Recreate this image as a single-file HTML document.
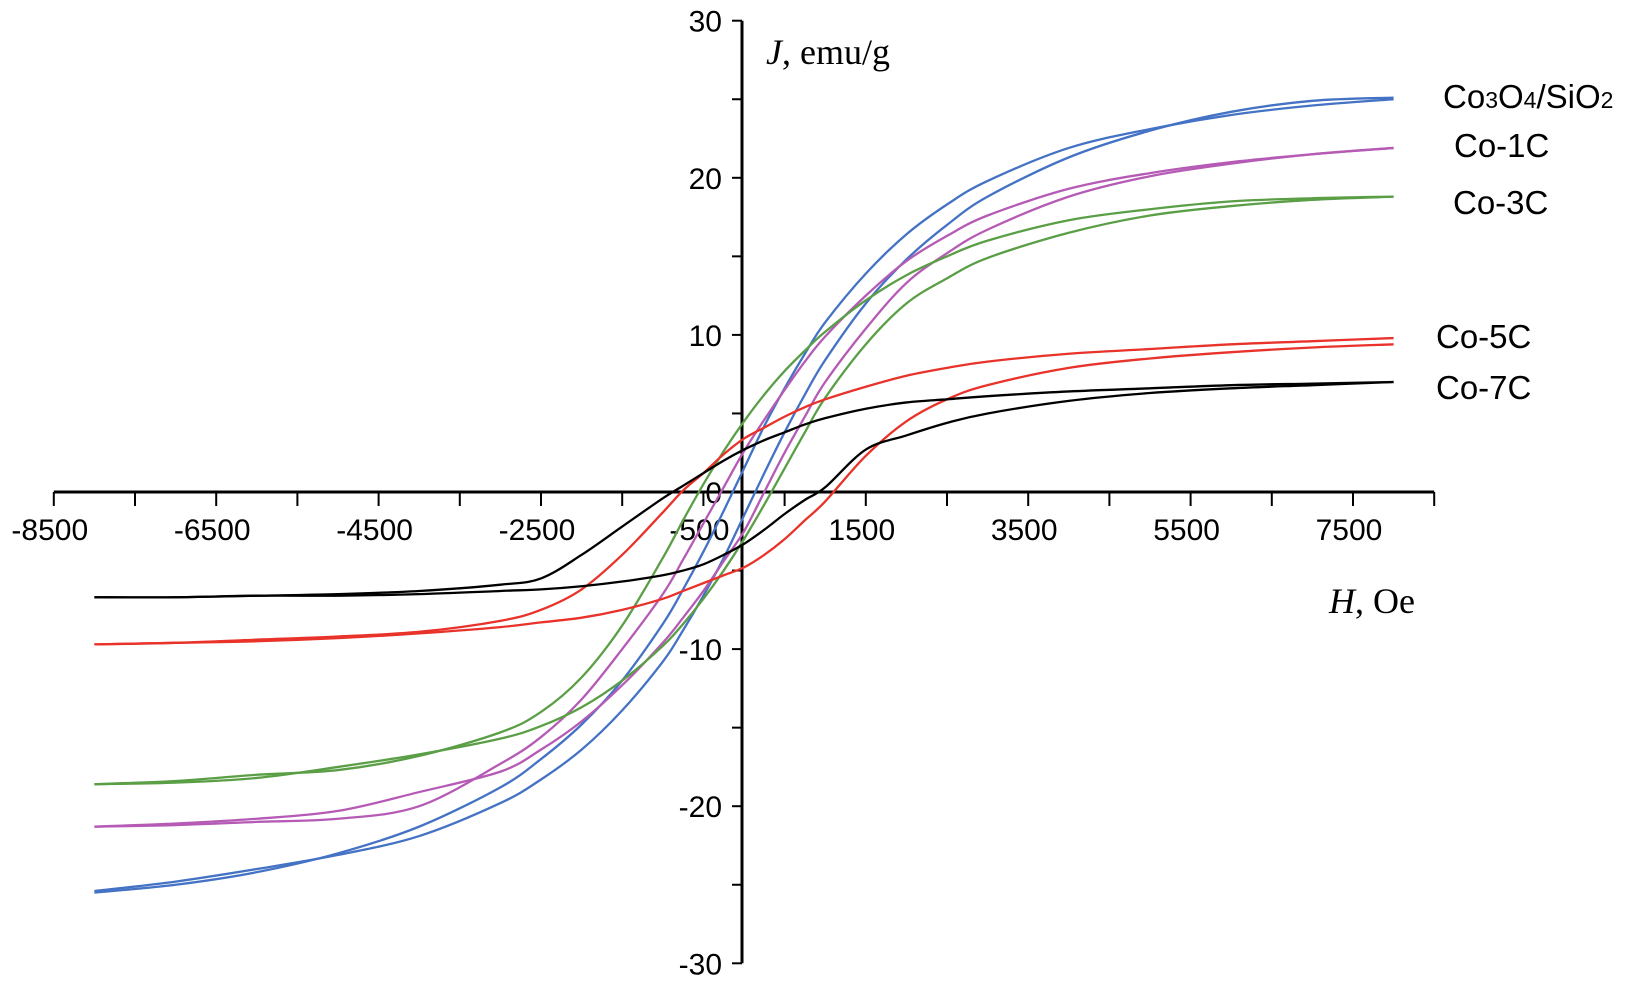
<!DOCTYPE html>
<html><head><meta charset="utf-8"><style>
body{margin:0;background:#fff}
svg{display:block}
.tk{font-family:"Liberation Sans",Arial,sans-serif;font-size:30px;fill:#000}
.lg{font-family:"Liberation Sans",Arial,sans-serif;font-size:33px;fill:#000}
.ax{font-family:"Liberation Serif",serif;font-size:36px;fill:#000}
</style></head><body>
<svg id="chart" width="1627" height="990" xmlns="http://www.w3.org/2000/svg">
<g id="axes"></g>
<g id="series"></g>
<text class="ax" x="766" y="64"><tspan font-style="italic">J</tspan>, emu/g</text>
<text class="ax" x="1329" y="613"><tspan font-style="italic">H</tspan>, Oe</text>
<text class="lg" x="1443" y="108">Co<tspan font-size="23">3</tspan>O<tspan font-size="23">4</tspan>/SiO<tspan font-size="23">2</tspan></text>
<text class="lg" x="1454" y="157">Co-1C</text>
<text class="lg" x="1453" y="214">Co-3C</text>
<text class="lg" x="1436" y="348">Co-5C</text>
<text class="lg" x="1436" y="399">Co-7C</text>
</svg>
<script>
const xTicks=[-8500,-6500,-4500,-2500,-500,1500,3500,5500,7500];
const yTicks=[-30,-20,-10,0,10,20,30];
const H=[-8000,-7000,-6000,-5000,-4000,-3000,-2500,-2000,-1500,-1000,-750,-500,-250,0,250,500,750,1000,1500,2000,2500,3000,4000,5000,6000,7000,8000];
const blueUp=[-25.5,-25.0,-24.2,-23.0,-21.3,-18.8,-17.0,-14.8,-12.0,-8.4,-6.2,-3.8,-1.2,1.5,4.2,6.6,8.8,10.8,13.9,16.4,18.3,19.8,21.9,23.1,24.0,24.6,25.0];
const blueDn=[-25.4,-24.8,-24.0,-23.1,-21.9,-19.8,-18.3,-16.4,-13.9,-10.8,-8.8,-6.6,-4.2,-1.5,1.2,3.8,6.2,8.4,12.0,14.8,17.0,18.8,21.3,23.0,24.2,24.9,25.1];
const magUp=[-21.3,-21.2,-21.0,-20.8,-20.0,-17.3,-15.6,-13.2,-10.0,-6.5,-4.3,-2.0,0.3,2.6,4.6,6.5,8.3,9.9,12.5,14.7,16.3,17.6,19.3,20.3,21.0,21.5,21.9];
const magDn=[-21.3,-21.1,-20.8,-20.3,-19.1,-17.8,-16.4,-14.6,-12.3,-9.6,-8.0,-6.3,-4.4,-2.5,0.0,2.5,4.8,7.0,10.4,13.3,15.2,16.7,18.8,20.1,20.9,21.5,21.9];
const grnUp=[-18.6,-18.4,-18.0,-17.7,-16.8,-15.3,-14.0,-11.8,-8.5,-4.2,-1.8,0.5,2.6,4.5,6.2,7.7,9.0,10.2,12.2,13.8,15.0,16.0,17.3,18.0,18.5,18.7,18.8];
const grnDn=[-18.6,-18.5,-18.2,-17.5,-16.7,-15.7,-14.9,-13.7,-12.0,-9.8,-8.4,-6.8,-5.0,-3.0,-0.8,1.5,3.8,6.0,9.4,12.0,13.6,14.9,16.5,17.6,18.2,18.6,18.8];
const redUp=[-9.7,-9.6,-9.4,-9.2,-8.9,-8.2,-7.5,-6.2,-4.0,-1.3,0.1,1.2,2.4,3.4,4.1,4.8,5.4,5.9,6.7,7.4,7.9,8.3,8.8,9.1,9.4,9.6,9.8];
const redDn=[-9.7,-9.6,-9.5,-9.3,-9.0,-8.6,-8.3,-8.0,-7.5,-6.8,-6.3,-5.8,-5.3,-4.8,-4.0,-3.0,-1.8,-0.6,2.3,4.5,5.9,6.8,7.9,8.5,8.9,9.2,9.4];
const blkUp=[-6.7,-6.7,-6.6,-6.5,-6.3,-5.9,-5.5,-4.0,-2.2,-0.4,0.4,1.2,2.0,2.7,3.3,3.8,4.3,4.7,5.3,5.7,5.9,6.1,6.4,6.6,6.8,6.9,7.0];
const blkDn=[-6.7,-6.7,-6.6,-6.6,-6.5,-6.3,-6.2,-6.0,-5.7,-5.3,-5.0,-4.6,-4.0,-3.3,-2.4,-1.4,-0.5,0.3,2.7,3.6,4.4,5.0,5.8,6.3,6.6,6.8,7.0];
const seriesList=[["blue","#4472c4",blueUp,blueDn],["magenta","#b55bb5",magUp,magDn],["green","#5a9e46",grnUp,grnDn],["red","#e8322a",redUp,redDn],["black","#000",blkUp,blkDn]];

const X0=744,XS=81.2/1000,Y0=492,YS=15.71;
const xs=v=>X0+v*XS, ys=v=>Y0-v*YS;
const NS="http://www.w3.org/2000/svg";
function mk(tag,at,parent){const e=document.createElementNS(NS,tag);for(const k in at)e.setAttribute(k,at[k]);parent.appendChild(e);return e;}
const ax=document.getElementById('axes');
let l=mk('line',{x1:xs(-8500),x2:xs(8500),y1:Y0,y2:Y0,stroke:'#000','stroke-width':3},ax);


l=mk('line',{x1:X0-2,x2:X0-2,y1:ys(30),y2:ys(-30),stroke:'#000','stroke-width':3},ax);


for(let v=-8500;v<=8500;v+=1000){const t=mk('line',{x1:xs(v),x2:xs(v),y1:Y0,y2:Y0+14,stroke:'#000','stroke-width':2},ax);

}
for(const v of xTicks){const t=mk('text',{x:xs(v)-4,y:Y0+48,'text-anchor':'middle',class:'tk'},ax);t.textContent=v;

}
for(let v=-30;v<=30;v+=5){const t=mk('line',{x1:X0-12,x2:X0-2,y1:ys(v),y2:ys(v),stroke:'#000','stroke-width':2},ax);

}
for(const v of yTicks){const t=mk('text',{x:X0-22,y:ys(v)+11,'text-anchor':'end',class:'tk'},ax);t.textContent=v;

}
function path(vals){const p=H.map((h,i)=>[xs(h),ys(vals[i])]);let d='M'+p[0][0]+','+p[0][1];
for(let i=0;i<p.length-1;i++){const a=p[Math.max(0,i-1)],b=p[i],c=p[i+1],e=p[Math.min(p.length-1,i+2)];
d+=' C'+(b[0]+(c[0]-a[0])/6)+','+(b[1]+(c[1]-a[1])/6)+' '+(c[0]-(e[0]-b[0])/6)+','+(c[1]-(e[1]-b[1])/6)+' '+c[0]+','+c[1];}return d;}
const sg=document.getElementById('series');
for(const [n,c,up,dn] of seriesList){
const a=mk('path',{d:path(up),fill:'none',stroke:c,'stroke-width':2.3},sg);


const b=mk('path',{d:path(dn),fill:'none',stroke:c,'stroke-width':2.3},sg);

}
</script>
</body></html>
